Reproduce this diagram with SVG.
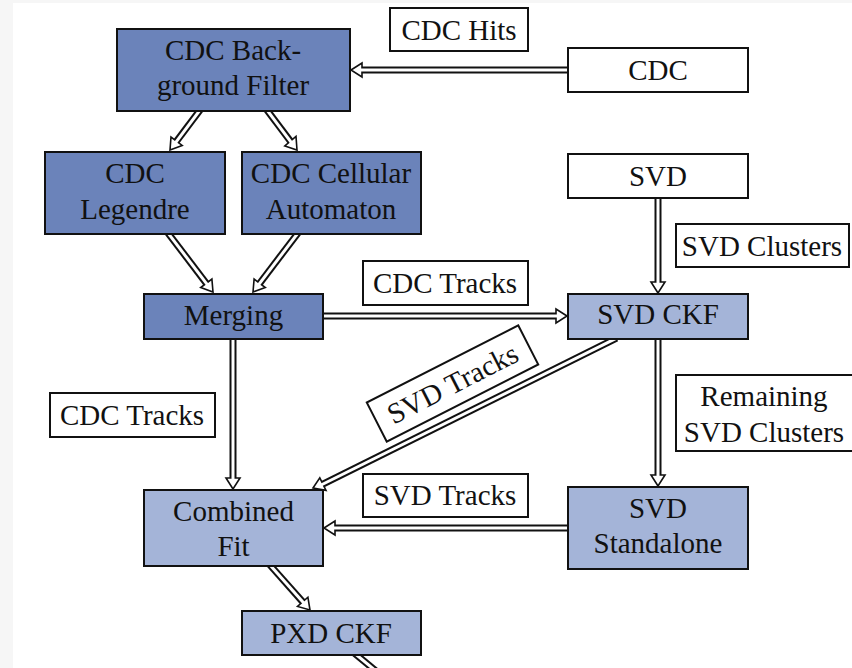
<svg xmlns="http://www.w3.org/2000/svg" width="852" height="668" viewBox="0 0 852 668">
<style>
text{font-family:"Liberation Serif","DejaVu Serif",serif;font-size:29px;fill:#111;text-anchor:middle}
.dark{fill:#6b83ba;stroke:#111;stroke-width:2}
.light{fill:#a4b4d8;stroke:#111;stroke-width:2}
.lbl{fill:#fff;stroke:#111;stroke-width:2}
.so{fill:none;stroke:#111;stroke-width:7}
.si{fill:none;stroke:#fff;stroke-width:3}
.hd{fill:#fff;stroke:#111;stroke-width:1.6;stroke-linejoin:miter}
</style>
<rect x="0" y="0" width="852" height="668" fill="#f6f6f6"/>
<rect x="13" y="3" width="839" height="665" fill="#fff"/>
<g id="connectors">
<path class="so" d="M572,70 L362,70"/><polygon class="hd" points="351,70 362,63 362,77"/><path class="si" d="M572,70 L360,70"/>
<path class="so" d="M202.4,106.8 L176.6,141.2"/><polygon class="hd" points="170,150 182.2,145.4 171,137"/><path class="si" d="M202.4,106.8 L175.4,142.8"/>
<path class="so" d="M264.6,106.8 L290.4,141.2"/><polygon class="hd" points="297,150 296,136.4 284.8,146"/><path class="si" d="M264.6,106.8 L291.6,142.8"/>
<path class="so" d="M165.6,229.8 L206.3,283.3"/><polygon class="hd" points="213,292 211.9,279.1 200.7,287.5"/><path class="si" d="M165.6,229.8 L207.5,284.9"/>
<path class="so" d="M300.4,229.8 L259.7,283.3"/><polygon class="hd" points="253,292 265.3,287.5 254.1,279.1"/><path class="si" d="M300.4,229.8 L258.5,284.9"/>
<path class="so" d="M320,316 L556,316"/><polygon class="hd" points="567,316 556,309 556,323"/><path class="si" d="M320,316 L558,316"/>
<path class="so" d="M658,195 L658,282"/><polygon class="hd" points="658,293 651,282 665,282"/><path class="si" d="M658,195 L658,284"/>
<path class="so" d="M658,336 L658,475"/><polygon class="hd" points="658,486 651,475 665,475"/><path class="si" d="M658,336 L658,477"/>
<path class="so" d="M616.6,338.2 L322.9,484.1"/><polygon class="hd" points="313,488 326,490.4 319.8,477.8"/><path class="si" d="M616.6,338.2 L321.1,485"/>
<path class="so" d="M233,336 L233,478"/><polygon class="hd" points="233,489 226,478 240,478"/><path class="si" d="M233,336 L233,480"/>
<path class="so" d="M571,528 L335,528"/><polygon class="hd" points="324,528 335,521 335,535"/><path class="si" d="M571,528 L333,528"/>
<path class="so" d="M267.3,562 L302.7,601.8"/><polygon class="hd" points="310,610 307.9,597.2 297.5,606.4"/><path class="si" d="M267.3,562 L304,603.3"/>
<path class="so" d="M353,652 L382,676"/><path class="si" d="M353,652 L382,676"/>
</g>
<g id="lbl-cdchits"><rect class="lbl" x="390" y="8" width="138" height="43"/><text x="459" y="40">CDC Hits</text></g>
<g id="lbl-svdclusters"><rect class="lbl" x="676" y="224" width="173" height="43"/><text x="762" y="256">SVD Clusters</text></g>
<g id="lbl-cdctracks1"><rect class="lbl" x="363" y="261" width="165" height="44"/><text x="445" y="293">CDC Tracks</text></g>
<g id="lbl-cdctracks2"><rect class="lbl" x="50" y="393" width="165" height="44"/><text x="132" y="425">CDC Tracks</text></g>
<g id="lbl-remaining"><rect class="lbl" x="676" y="375" width="180" height="76"/><text x="764" y="406">Remaining</text><text x="764" y="442">SVD Clusters</text></g>
<g id="lbl-svdtracks1" transform="translate(452.5,383.5) rotate(-27)"><rect class="lbl" x="-85" y="-22" width="170" height="44"/><text x="0" y="10">SVD Tracks</text></g>
<g id="lbl-svdtracks2"><rect class="lbl" x="363" y="474" width="165" height="43"/><text x="445" y="505">SVD Tracks</text></g>
<g id="node-bgf"><rect class="dark" x="117" y="29" width="233" height="82"/><text x="233" y="60">CDC Back-</text><text x="233" y="95">ground Filter</text></g>
<g id="node-cdc"><rect class="lbl" x="568" y="48" width="180" height="44"/><text x="658" y="80">CDC</text></g>
<g id="node-legendre"><rect class="dark" x="45" y="152" width="180" height="82"/><text x="135" y="183">CDC</text><text x="135" y="219">Legendre</text></g>
<g id="node-cellular"><rect class="dark" x="242" y="152" width="179" height="82"/><text x="331" y="183">CDC Cellular</text><text x="331" y="219">Automaton</text></g>
<g id="node-svd"><rect class="lbl" x="568" y="154" width="180" height="44"/><text x="658" y="186">SVD</text></g>
<g id="node-merging"><rect class="dark" x="144" y="294" width="179" height="45"/><text x="233.5" y="325">Merging</text></g>
<g id="node-svdckf"><rect class="light" x="568" y="294" width="180" height="45"/><text x="658" y="324">SVD CKF</text></g>
<g id="node-combined"><rect class="light" x="144" y="490" width="179" height="76"/><text x="233.5" y="521">Combined</text><text x="233.5" y="556">Fit</text></g>
<g id="node-standalone"><rect class="light" x="568" y="487" width="180" height="82"/><text x="658" y="518">SVD</text><text x="658" y="553">Standalone</text></g>
<g id="node-pxdckf"><rect class="light" x="242" y="611" width="179" height="44"/><text x="331" y="643">PXD CKF</text></g>
</svg>
